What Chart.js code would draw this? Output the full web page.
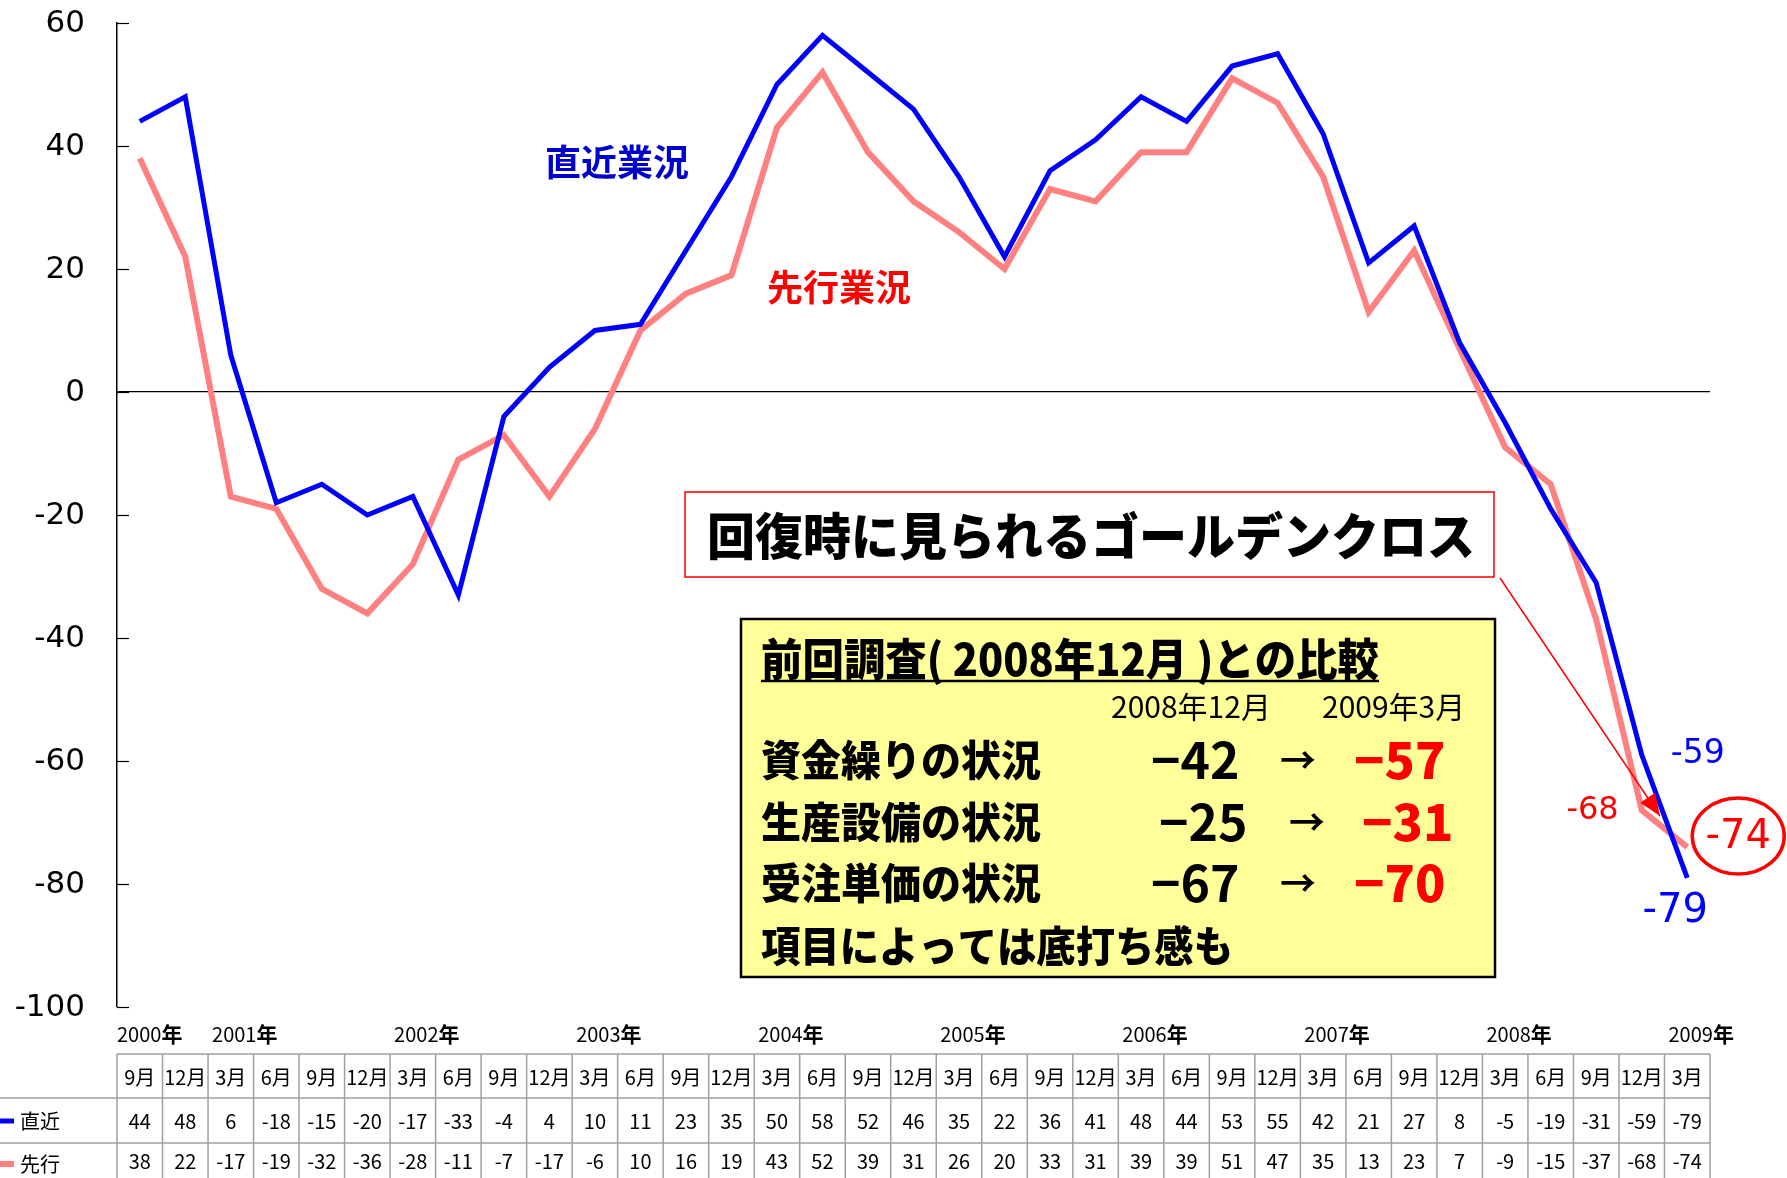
<!DOCTYPE html>
<html>
<head>
<meta charset="utf-8">
<script src="https://cdn.jsdelivr.net/npm/chart.js@4.4.0/dist/chart.umd.min.js"></script>
<style>
  html, body { margin: 0; padding: 0; background: #fff; }
  #wrap { width: 1787px; height: 1178px; position: relative; }
</style>
</head>
<body>
<div id="wrap"><canvas id="dicChart"></canvas></div>
<script>
// 日銀短観 業況判断DI（直近・先行）
const years = ['2000年', '2001年', '2002年', '2003年', '2004年', '2005年', '2006年', '2007年', '2008年', '2009年'];
const months = ['9月', '12月',
  '3月', '6月', '9月', '12月',
  '3月', '6月', '9月', '12月',
  '3月', '6月', '9月', '12月',
  '3月', '6月', '9月', '12月',
  '3月', '6月', '9月', '12月',
  '3月', '6月', '9月', '12月',
  '3月', '6月', '9月', '12月',
  '3月', '6月', '9月', '12月',
  '3月'];
const chokkin = [44, 48, 6, -18, -15, -20, -17, -33, -4, 4, 10, 11, 23, 35, 50, 58, 52, 46, 35, 22, 36, 41, 48, 44, 53, 55, 42, 21, 27, 8, -5, -19, -31, -59, -79];
const senko = [38, 22, -17, -19, -32, -36, -28, -11, -7, -17, -6, 10, 16, 19, 43, 52, 39, 31, 26, 20, 33, 31, 39, 39, 51, 47, 35, 13, 23, 7, -9, -15, -37, -68, -74];
const yMin = -100, yMax = 60, yStep = 20;

// 前回調査との比較
const compareItems = ['資金繰りの状況', '生産設備の状況', '受注単価の状況'];
const compareDec = ['−42', '−25', '−67'];
const compareMar = ['−57', '−31', '−70'];

const BLUE = '#0000FF';
const PINK = '#FF8080';
const JP = '"Noto Sans CJK JP", "Noto Sans", sans-serif';

// build category labels (year + month)
const labels = [];
let yi = 0;
months.forEach(function (m, i) {
  if (i > 0 && m === '3月') yi++;
  labels.push(years[yi] + m);
});

const drawExtras = {
  id: 'drawExtras',
  afterDraw: function (chart) {
    const ctx = chart.ctx;
    const x = chart.scales.x;
    const y = chart.scales.y;
    const area = chart.chartArea;
    const colW = (area.right - area.left) / months.length;

    ctx.save();

    // y ticks (inward) and their labels
    ctx.strokeStyle = '#000';
    ctx.lineWidth = 1.2;
    ctx.fillStyle = '#000';
    ctx.font = '31px "DejaVu Sans", sans-serif';
    ctx.textAlign = 'right';
    ctx.textBaseline = 'middle';
    y.ticks.forEach(function (t) {
      const py = Math.round(y.getPixelForValue(t.value)) + 0.5;
      ctx.beginPath();
      ctx.moveTo(area.left, py);
      ctx.lineTo(area.left + 12, py);
      ctx.stroke();
      ctx.fillText(String(t.value), area.left - 32, py);
    });

    // ---- data table ----
    const tTop = 1054, r1 = 1098, r2 = 1143, tBot = 1178;
    ctx.strokeStyle = '#A0A0A0';
    ctx.lineWidth = 1.5;
    ctx.beginPath();
    ctx.moveTo(area.left, tTop); ctx.lineTo(area.right, tTop);
    ctx.moveTo(0, r1); ctx.lineTo(area.right, r1);
    ctx.moveTo(0, r2); ctx.lineTo(area.right, r2);
    for (let i = 0; i <= months.length; i++) {
      const px = area.left + colW * i;
      ctx.moveTo(px, tTop); ctx.lineTo(px, tBot);
    }
    ctx.stroke();

    ctx.fillStyle = '#000';
    ctx.textAlign = 'center';
    ctx.font = '20px ' + JP;
    months.forEach(function (m, i) {
      const px = x.getPixelForValue(i);
      ctx.fillText(m, px, (tTop + r1) / 2 + 1, colW - 3);
      ctx.fillText(String(chokkin[i]), px, (r1 + r2) / 2 + 1, colW - 3);
      ctx.fillText(String(senko[i]), px, (r2 + tBot) / 2 + 1, colW - 3);
    });

    // year labels
    ctx.textAlign = 'left';
    let k = 0;
    months.forEach(function (m, i) {
      if (i === 0 || m === '3月') {
        const px = area.left + colW * i + (i === 0 ? 0 : 4);
        const num = years[k].replace('年', '');
        ctx.font = '20px ' + JP;
        ctx.fillText(num, px, 1034);
        const w = ctx.measureText(num).width;
        ctx.font = 'bold 21px ' + JP;
        ctx.fillText('年', px + w, 1034);
        k++;
      }
    });

    // legend cells
    ctx.font = '20px ' + JP;
    ctx.lineWidth = 5;
    ctx.strokeStyle = BLUE;
    ctx.beginPath(); ctx.moveTo(0, 1121); ctx.lineTo(14, 1121); ctx.stroke();
    ctx.strokeStyle = PINK;
    ctx.lineWidth = 6;
    ctx.beginPath(); ctx.moveTo(0, 1164); ctx.lineTo(14, 1164); ctx.stroke();
    ctx.fillStyle = '#000';
    ctx.fillText('直近', 20, 1121);
    ctx.fillText('先行', 20, 1164);

    // ---- series names ----
    ctx.font = 'bold 36px ' + JP;
    ctx.fillStyle = '#0000CC';
    ctx.fillText('直近業況', 545, 162, 146);
    ctx.fillStyle = '#FF0000';
    ctx.fillText('先行業況', 767, 287, 148);

    // ---- end point labels ----
    const n = months.length;
    ctx.fillStyle = BLUE;
    ctx.font = '33px "DejaVu Sans", sans-serif';
    ctx.textAlign = 'left';
    ctx.fillText(String(chokkin[n - 2]), x.getPixelForValue(n - 2) + 29, y.getPixelForValue(chokkin[n - 2]));
    ctx.font = '40px "DejaVu Sans", sans-serif';
    ctx.textAlign = 'center';
    ctx.fillText(String(chokkin[n - 1]), x.getPixelForValue(n - 1) - 12, y.getPixelForValue(chokkin[n - 1]) + 34);
    ctx.fillStyle = '#FF0000';
    ctx.font = '32px "DejaVu Sans", sans-serif';
    ctx.textAlign = 'right';
    ctx.fillText(String(senko[n - 2]), x.getPixelForValue(n - 2) - 23, y.getPixelForValue(senko[n - 2]));
    const ex = x.getPixelForValue(n - 1) + 51;
    const ey = y.getPixelForValue(senko[n - 1]) - 11;
    ctx.font = '40px "DejaVu Sans", sans-serif';
    ctx.textAlign = 'center';
    ctx.fillText(String(senko[n - 1]), ex, ey + 2);
    ctx.strokeStyle = '#FF0000';
    ctx.lineWidth = 3.5;
    ctx.beginPath();
    ctx.ellipse(ex, ey, 46, 38, 0, 0, Math.PI * 2);
    ctx.stroke();

    // ---- golden cross callout ----
    ctx.fillStyle = '#fff';
    ctx.fillRect(685, 492, 809, 85);
    ctx.strokeStyle = '#FF0000';
    ctx.lineWidth = 1.5;
    ctx.strokeRect(685, 492, 809, 85);
    ctx.fillStyle = '#000';
    ctx.font = '900 50px ' + JP;
    ctx.textAlign = 'left';
    ctx.fillText('回復時に見られるゴールデンクロス', 707, 536, 768);

    // arrow to crossing point
    const ax0 = 1500, ay0 = 578, ax1 = 1660, ay1 = 816;
    ctx.strokeStyle = '#FF0000';
    ctx.lineWidth = 1.5;
    ctx.beginPath(); ctx.moveTo(ax0, ay0); ctx.lineTo(ax1, ay1); ctx.stroke();
    const ang = Math.atan2(ay1 - ay0, ax1 - ax0);
    ctx.fillStyle = '#FF0000';
    ctx.beginPath();
    ctx.moveTo(ax1, ay1);
    ctx.lineTo(ax1 - 22 * Math.cos(ang) + 9 * Math.sin(ang), ay1 - 22 * Math.sin(ang) - 9 * Math.cos(ang));
    ctx.lineTo(ax1 - 22 * Math.cos(ang) - 9 * Math.sin(ang), ay1 - 22 * Math.sin(ang) + 9 * Math.cos(ang));
    ctx.closePath();
    ctx.fill();

    // ---- comparison box ----
    ctx.fillStyle = '#FFFF99';
    ctx.fillRect(741, 619, 754, 358);
    ctx.strokeStyle = '#000';
    ctx.lineWidth = 2.5;
    ctx.strokeRect(741, 619, 754, 358);

    ctx.fillStyle = '#000';
    ctx.textAlign = 'left';
    ctx.font = '900 44px ' + JP;
    ctx.fillText('前回調査( 2008年12月 )との比較', 761, 659, 618);
    ctx.lineWidth = 2.5;
    ctx.beginPath(); ctx.moveTo(761, 681); ctx.lineTo(1379, 681); ctx.stroke();

    ctx.font = '30px ' + JP;
    ctx.fillText('2008年12月', 1111, 707, 163);
    ctx.fillText('2009年3月', 1322, 707, 146);

    const rowY = [760, 822, 883];
    const decX = [1151, 1159, 1151];
    const arrX = [1298, 1307, 1298];
    const marX = [1354, 1362, 1354];
    compareItems.forEach(function (item, i) {
      ctx.fillStyle = '#000';
      ctx.textAlign = 'left';
      ctx.font = '900 42px ' + JP;
      ctx.fillText(item, 761, rowY[i], 280);
      ctx.font = 'bold 50px ' + JP;
      ctx.fillText(compareDec[i], decX[i], rowY[i], 99);
      ctx.textAlign = 'center';
      ctx.font = 'bold 36px ' + JP;
      ctx.fillText('→', arrX[i], rowY[i]);
      ctx.textAlign = 'left';
      ctx.fillStyle = '#FF0000';
      ctx.font = '900 50px ' + JP;
      ctx.fillText(compareMar[i], marX[i], rowY[i], 103);
    });
    ctx.fillStyle = '#000';
    ctx.font = '900 42px ' + JP;
    ctx.fillText('項目によっては底打ち感も', 761, 946, 472);

    ctx.restore();
  }
};

new Chart(document.getElementById('dicChart').getContext('2d'), {
  type: 'line',
  data: {
    labels: labels,
    datasets: [{
      label: '直近',
      data: chokkin,
      borderColor: BLUE,
      borderWidth: 5,
      pointRadius: 0,
      tension: 0,
      fill: false
    }, {
      label: '先行',
      data: senko,
      borderColor: PINK,
      borderWidth: 6,
      pointRadius: 0,
      tension: 0,
      fill: false
    }]
  },
  options: {
    responsive: true,
    maintainAspectRatio: false,
    animation: false,
    layout: { padding: { top: 23, right: 77, bottom: 171, left: 0 } },
    plugins: {
      legend: { display: false },
      tooltip: { enabled: false }
    },
    scales: {
      x: {
        display: false,
        offset: true
      },
      y: {
        min: yMin,
        max: yMax,
        afterFit: function (scale) { scale.width = 117; },
        ticks: { stepSize: yStep, display: false },
        border: { display: true, color: '#000', width: 1.5 },
        grid: {
          drawTicks: false,
          color: function (c) { return c.tick && c.tick.value === 0 ? '#000' : 'rgba(0,0,0,0)'; },
          lineWidth: 1.2
        }
      }
    }
  },
  plugins: [drawExtras]
});
</script>
</body>
</html>
